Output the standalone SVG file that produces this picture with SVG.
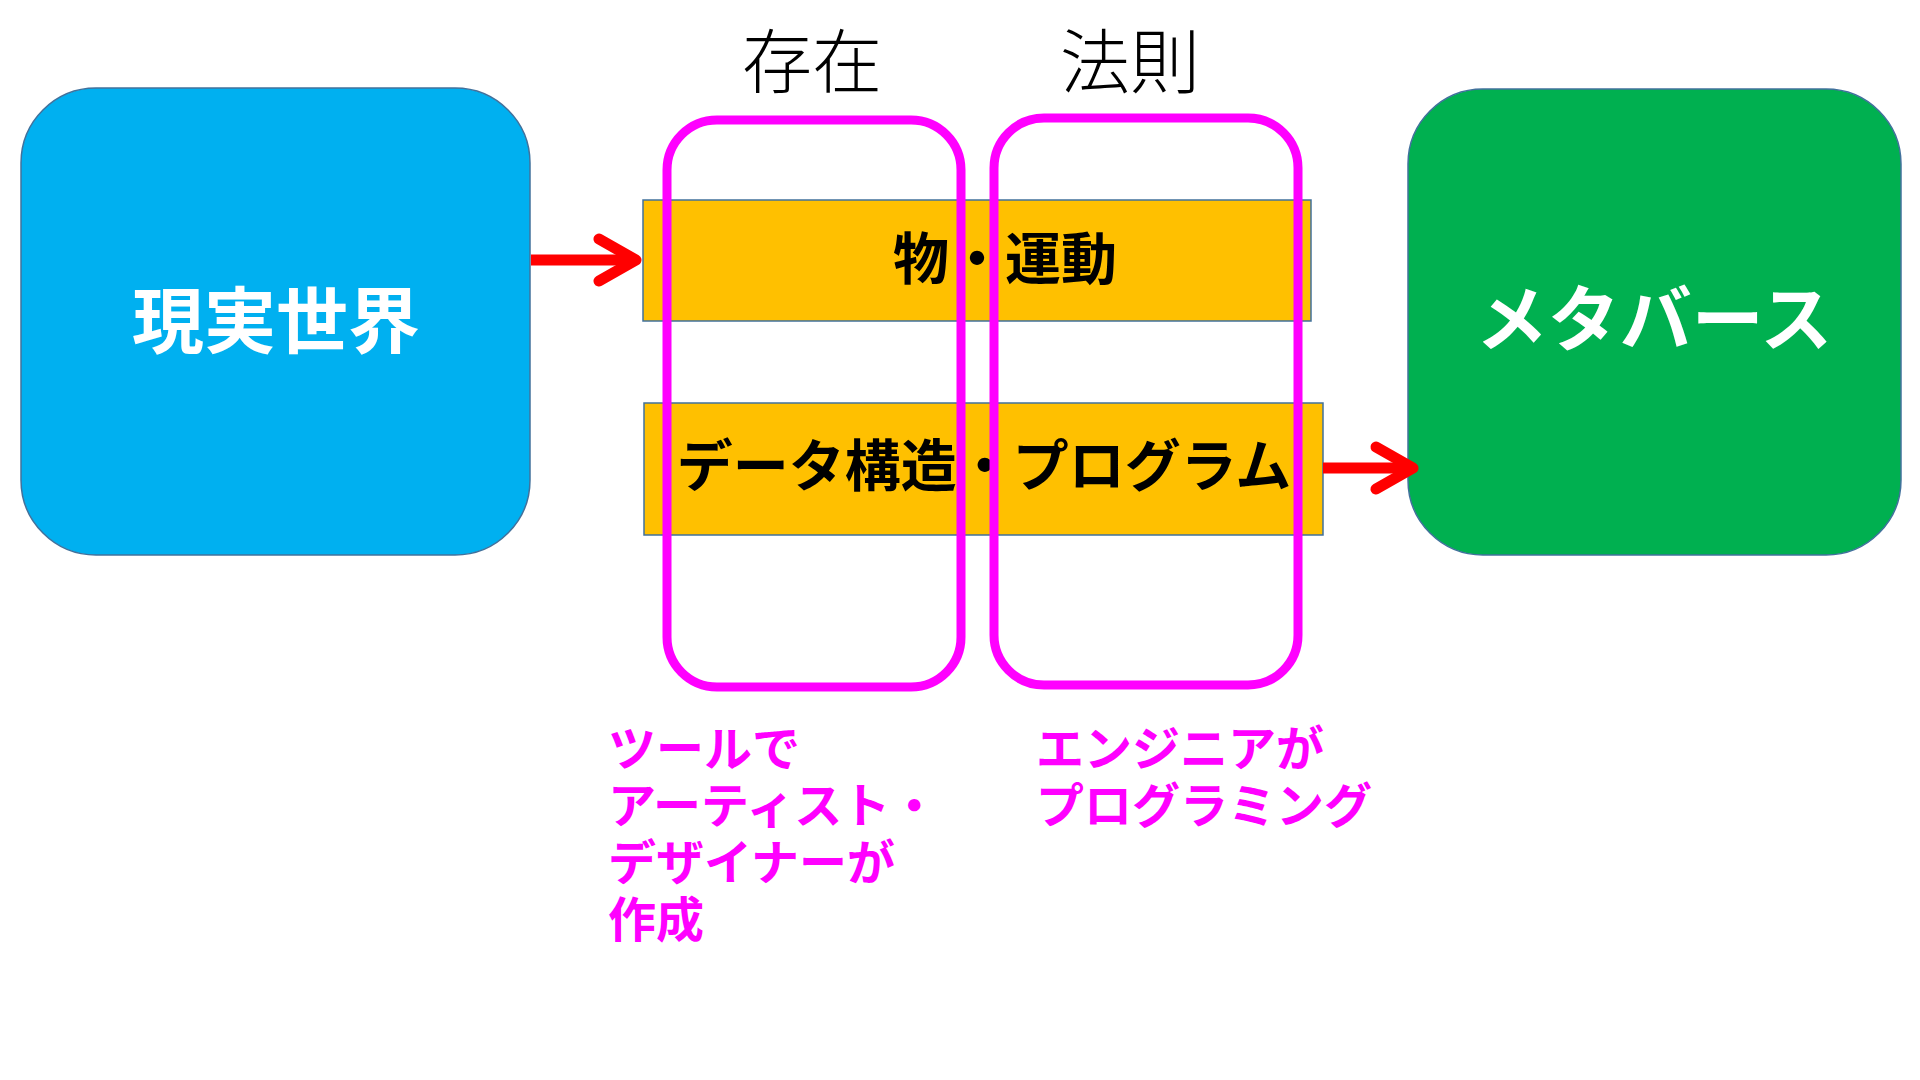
<svg xmlns="http://www.w3.org/2000/svg" width="1920" height="1080" viewBox="0 0 1920 1080">
<style>
.box{stroke:#41719C;stroke-width:1.5}
.band{fill:#FFC000;stroke:#41719C;stroke-width:1.5}
.frame{fill:none;stroke:#FF00FF;stroke-width:9}
.big{font-family:"Noto Sans CJK JP","Noto Sans CJK SC",sans-serif;font-weight:700;font-size:72px;fill:#FFFFFF;text-anchor:middle}
.mid{font-family:"Noto Sans CJK JP","Noto Sans CJK SC",sans-serif;font-weight:700;font-size:56px;fill:#000000;text-anchor:middle}
.head{font-family:"Noto Sans CJK JP","Noto Sans CJK SC",sans-serif;font-weight:300;font-size:70px;fill:#000000;text-anchor:middle}
.note{font-family:"Noto Sans CJK JP","Noto Sans CJK SC",sans-serif;font-weight:700;font-size:48px;fill:#FF00FF}
.shaft{fill:none;stroke:#FF0000;stroke-width:11;stroke-linecap:butt}
.tip{fill:none;stroke:#FF0000;stroke-width:11;stroke-linecap:round;stroke-linejoin:round}
</style>
<rect width="1920" height="1080" fill="#FFFFFF"/>
<g id="real-world">
<rect class="box" x="21" y="88" width="509" height="467" rx="75" ry="75" fill="#00B0F0"/>
<text class="big" x="276" y="347">現実世界</text>
</g>
<g id="metaverse">
<rect class="box" x="1408" y="89" width="493" height="466" rx="75" ry="75" fill="#00B050"/>
<text class="big" x="1654" y="345">メタバース</text>
</g>
<g id="objects-motion">
<rect class="band" x="643" y="200" width="668" height="121"/>
<text class="mid" x="1005" y="279">物・運動</text>
</g>
<g id="data-program">
<rect class="band" x="644" y="403" width="679" height="132"/>
<text class="mid" x="984" y="486">データ構造・プログラム</text>
</g>
<g id="existence">
<rect class="frame" x="667" y="120" width="294" height="567" rx="50" ry="50"/>
<text class="head" x="812" y="88">存在</text>
</g>
<g id="law">
<rect class="frame" x="994" y="118" width="304" height="567" rx="50" ry="50"/>
<text class="head" x="1130" y="88">法則</text>
</g>
<g id="note-artist">
<text class="note" x="608" y="766">ツールで</text>
<text class="note" x="608" y="823">アーティスト・</text>
<text class="note" x="608" y="880">デザイナーが</text>
<text class="note" x="608" y="937">作成</text>
</g>
<g id="note-engineer">
<text class="note" x="1036" y="766">エンジニアが</text>
<text class="note" x="1036" y="823">プログラミング</text>
</g>
<g id="connectors">
<path class="shaft" d="M531,260 L632,260"/>
<path class="tip" d="M599,239 L636,260 L599,281"/>
<path class="shaft" d="M1323,468 L1409,468"/>
<path class="tip" d="M1376,447 L1413,468 L1376,489"/>
</g>
</svg>
